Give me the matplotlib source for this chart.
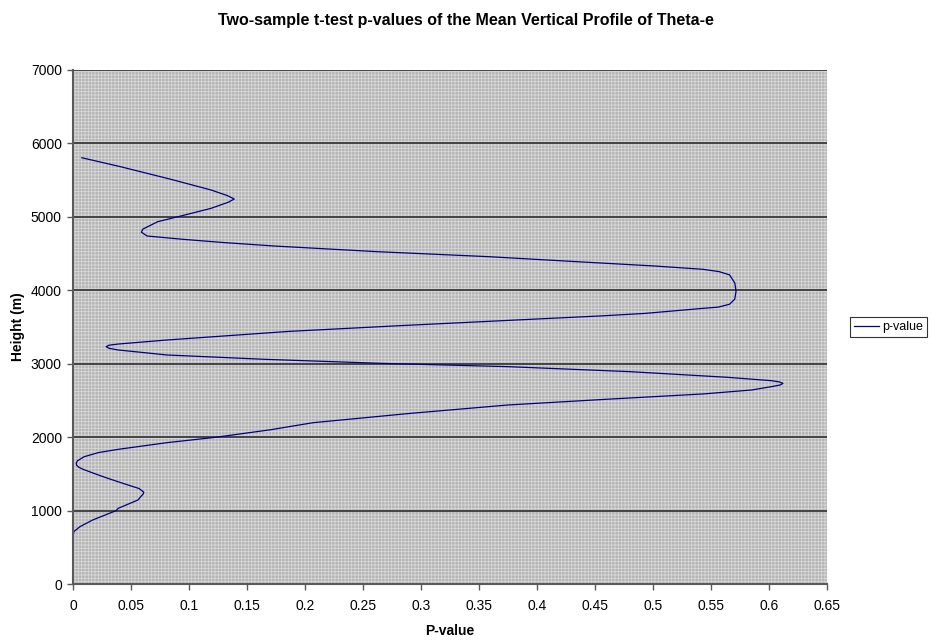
import numpy as np
import matplotlib.pyplot as plt
from matplotlib.patches import Rectangle

plt.rcParams['font.family'] = ['Liberation Sans', 'DejaVu Sans']
plt.rcParams['hatch.linewidth'] = 0.6

height = [0, 100, 200, 300, 400, 500, 600, 712, 781, 872, 998, 1031, 1144, 1200,
          1225, 1250, 1300, 1371, 1450, 1507, 1560, 1590, 1621, 1650, 1680, 1734,
          1790, 1834, 1925, 1998, 2100, 2197, 2324, 2438, 2515, 2588, 2642, 2690,
          2712, 2733, 2752, 2769, 2815, 2892, 2960, 3005, 3060, 3119, 3187, 3210,
          3232, 3252, 3268, 3323, 3440, 3518, 3606, 3650, 3685, 3754, 3770, 3810,
          3880, 3990, 4100, 4210, 4254, 4286, 4331, 4390, 4458, 4526, 4603, 4650,
          4694, 4739, 4790, 4831, 4934, 5012, 5116, 5200, 5243, 5290, 5366, 5511,
          5683, 5805]
pvalue = [0.0, 0.0, 0.0, 0.0, 0.0, 0.0, 0.0, 0.0006, 0.006, 0.017, 0.037, 0.039, 0.056, 0.059,
          0.0605, 0.061, 0.057, 0.043, 0.028, 0.018, 0.009, 0.005, 0.003, 0.0028, 0.004, 0.0097,
          0.022, 0.039, 0.081, 0.123, 0.170, 0.207, 0.291, 0.375, 0.459, 0.543, 0.585, 0.603,
          0.610, 0.612, 0.609, 0.602, 0.564, 0.480, 0.375, 0.266, 0.165, 0.081, 0.039, 0.031,
          0.0286, 0.031, 0.039, 0.081, 0.186, 0.2816, 0.396, 0.454, 0.493, 0.543, 0.556, 0.566,
          0.5705, 0.5716, 0.5705, 0.566, 0.557, 0.543, 0.501, 0.434, 0.358, 0.262, 0.1735, 0.13,
          0.095, 0.064, 0.059, 0.060, 0.073, 0.093, 0.119, 0.134, 0.139, 0.133, 0.119, 0.0845,
          0.041, 0.0076]

xticks = np.arange(0, 0.651, 0.05)
xtick_labels = ['0', '0.05', '0.1', '0.15', '0.2', '0.25', '0.3', '0.35', '0.4',
                '0.45', '0.5', '0.55', '0.6', '0.65']
yticks = np.arange(0, 7001, 1000)

fig = plt.figure(figsize=(9.32, 6.43), dpi=100)
fig.patch.set_facecolor('white')
ax = fig.add_axes([73/932, 59/643, 754/932, 514/643])

# textured grey plot area
ax.patch.set_visible(False)
bg = Rectangle((0, 0), 1, 1, transform=ax.transAxes, facecolor='#b4b4b4',
               edgecolor='#d8d8d8', linewidth=0, hatch='+++++', zorder=0)
ax.add_patch(bg)

ax.plot(pvalue, height, color='#000080', lw=0.9, label='p-value', zorder=2)

ax.set_xlim(0, 0.65)
ax.set_ylim(0, 7000)
ax.set_xticks(xticks)
ax.set_xticklabels(xtick_labels)
ax.set_yticks(yticks)

for y in yticks[1:]:
    ax.axhline(y, color='#3a3a3a', lw=1.3, zorder=1)

for s in ['top', 'right']:
    ax.spines[s].set_visible(False)
for s in ['left', 'bottom']:
    ax.spines[s].set_color('#5a5a5a')
    ax.spines[s].set_linewidth(1.5)
    ax.spines[s].set_zorder(3)

ax.tick_params(direction='out', length=4, width=1, color='#5a5a5a',
               labelsize=10)
ax.tick_params(axis='x', pad=7)
ax.tick_params(axis='y', pad=4)

ax.set_xlabel('P-value', fontsize=10, fontweight='bold', labelpad=8)
ax.set_ylabel('Height (m)', fontsize=10, fontweight='bold', labelpad=4)
fig.text(0.5, 1 - 20/643, 'Two-sample t-test p-values of the Mean Vertical Profile of Theta-e',
         ha='center', va='center', fontsize=11.5, fontweight='bold')

leg = ax.legend(loc='center left', bbox_to_anchor=(850/754 - 73/754, 0.5), fontsize=9,
                frameon=True, fancybox=False, handlelength=2.0, handletextpad=0.2,
                borderpad=0.35, borderaxespad=0)
leg.get_frame().set_edgecolor('black')
leg.get_frame().set_linewidth(0.8)

fig.savefig('out.png', dpi=100, facecolor='white')
